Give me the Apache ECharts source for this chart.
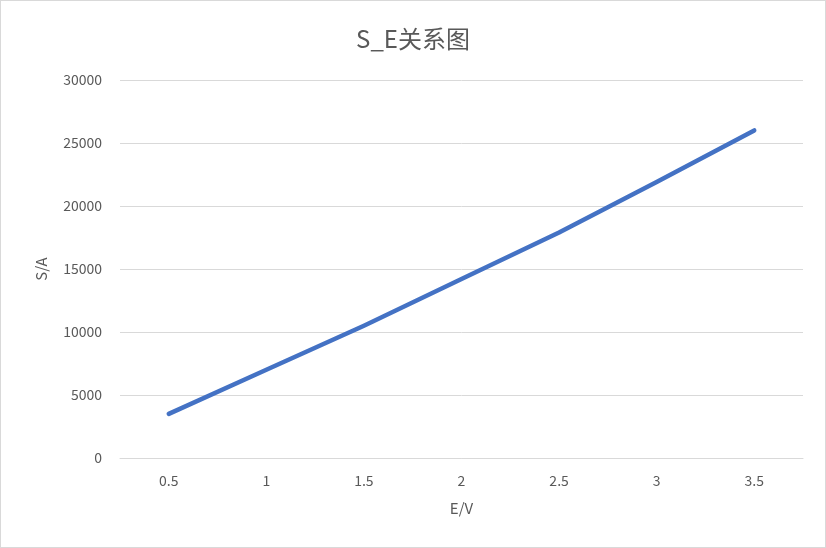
<!DOCTYPE html>
<html>
<head>
<meta charset="utf-8">
<script src="https://cdn.jsdelivr.net/npm/echarts@6/dist/echarts.min.js"></script>
<style>
html,body{margin:0;padding:0;background:#fff;}
#c{position:absolute;left:0;top:0;width:824px;height:546px;border:1px solid #d9d9d9;}
</style>
</head>
<body>
<div id="c"></div>
<script>
const categories = ['0.5', '1', '1.5', '2', '2.5', '3', '3.5'];
const values = [3500, 7000, 10500, 14200, 17900, 21900, 26000];
const titleText = 'S_E关系图';
const xName = 'E/V';
const yName = 'S/A';

const chart = echarts.init(document.getElementById('c'));
const font = '"Noto Sans CJK SC", "Noto Sans", sans-serif';
chart.setOption({
  animation: false,
  textStyle: { fontFamily: font },
  title: {
    text: titleText, left: 'center', top: 21,
    textStyle: { fontSize: 24, fontWeight: 'normal', color: '#595959', fontFamily: font }
  },
  grid: { left: 119, right: 22, top: 79, bottom: 89, containLabel: false },
  xAxis: {
    type: 'category', data: categories, boundaryGap: true,
    name: xName, nameLocation: 'middle', nameGap: 43,
    nameTextStyle: { fontSize: 15, color: '#595959' },
    axisLine: { lineStyle: { color: '#d9d9d9', width: 1 } },
    axisTick: { show: false },
    axisLabel: { fontSize: 14, color: '#595959', margin: 16 }
  },
  yAxis: {
    type: 'value', min: 0, max: 30000, interval: 5000,
    name: yName, nameLocation: 'middle', nameGap: 71,
    nameTextStyle: { fontSize: 15, color: '#595959' },
    axisLine: { show: false }, axisTick: { show: false },
    axisLabel: { fontSize: 14, color: '#595959', margin: 18, formatter: function (v) { return String(v); } },
    splitLine: { lineStyle: { color: '#d9d9d9', width: 1 } }
  },
  series: [{
    type: 'line', data: values, showSymbol: false, symbol: 'none',
    lineStyle: { color: '#4472C4', width: 4.5, cap: 'round', join: 'round' },
    itemStyle: { color: '#4472C4' }
  }]
});
</script>
</body>
</html>
